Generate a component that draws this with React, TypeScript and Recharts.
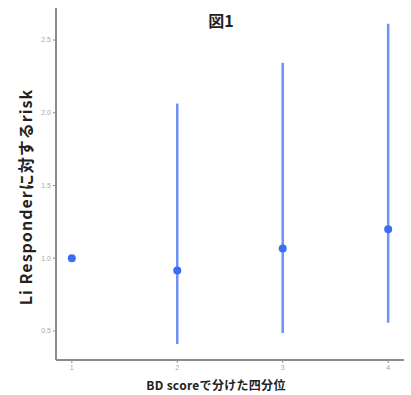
// App.tsx
// 図1: risk for Li responders by BD score quartile, point + error bar.
import { ScatterChart, Scatter, ErrorBar, XAxis, YAxis, Label } from "recharts";

const QUARTILES = [1, 2, 3, 4];
const RISK = [1.0, 0.915, 1.066, 1.199];
const LOWER = [1.0, 0.41, 0.486, 0.556];
const UPPER = [1.0, 2.063, 2.344, 2.612];

const X_TICKS = [1, 2, 3, 4];
const Y_TICKS = [0.5, 1.0, 1.5, 2.0, 2.5];

const data = QUARTILES.map((q, i) => ({
  q,
  risk: RISK[i],
  err: [RISK[i] - LOWER[i], UPPER[i] - RISK[i]],
}));

const FONT = '"Noto Sans CJK JP", "Noto Sans", sans-serif';
const AXIS_COLOR = "#8c8c8c";
const TICK_STYLE = { fontSize: 7, fill: "#a8a8a8", fontFamily: "Arial, sans-serif" };

const Dot = (props: any) => (
  <circle cx={props.cx} cy={props.cy} r={4} fill="#3a6cf4" />
);

// rotated y title, nudged a bit below the axis centre like the original
const YTitle = ({ viewBox }: any) => {
  const x = viewBox.x + viewBox.width / 2 - 3;
  const y = viewBox.y + viewBox.height / 2 + 13;
  return (
    <text
      x={x}
      y={y}
      transform={`rotate(-90, ${x}, ${y})`}
      textAnchor="middle"
      dominantBaseline="central"
      style={{ fontSize: 16, fontWeight: 700, fill: "#222", fontFamily: FONT, letterSpacing: 1 }}
    >
      Li Responderに対するrisk
    </text>
  );
};

export default function App() {
  return (
    <div style={{ position: "absolute", left: 0, top: 0, width: 411, height: 395, background: "#fff" }}>
      <div
        style={{
          position: "absolute", left: 0, width: 442, top: 8, textAlign: "center",
          fontFamily: FONT, fontWeight: 700, fontSize: 16, color: "#222",
        }}
      >
        図1
      </div>
      <ScatterChart width={411} height={395} margin={{ top: 8, right: 7, left: 0, bottom: 0 }}>
        <XAxis
          type="number"
          dataKey="q"
          domain={[0.85, 4.15]}
          ticks={X_TICKS}
          allowDataOverflow
          height={35}
          tickSize={3}
          tick={TICK_STYLE}
          tickLine={{ stroke: AXIS_COLOR }}
          axisLine={{ stroke: AXIS_COLOR, strokeWidth: 2 }}
        >
          <Label
            value="BD scoreで分けた四分位"
            position="insideBottom"
            offset={5}
            dx={-14}
            style={{ fontSize: 12, fontWeight: 700, fill: "#222", fontFamily: FONT, letterSpacing: 0.3 }}
          />
        </XAxis>
        <YAxis
          type="number"
          dataKey="risk"
          domain={[0.3, 2.72]}
          ticks={Y_TICKS}
          allowDataOverflow
          width={56}
          tickSize={3}
          tick={TICK_STYLE}
          tickFormatter={(v: number) => v.toFixed(1)}
          tickLine={{ stroke: AXIS_COLOR }}
          axisLine={{ stroke: AXIS_COLOR, strokeWidth: 2 }}
        >
          <Label content={YTitle} position="center" />
        </YAxis>
        <Scatter data={data} shape={Dot} isAnimationActive={false}>
          <ErrorBar dataKey="err" direction="y" width={0} stroke="#6f92f6" strokeWidth={2.5} />
        </Scatter>
      </ScatterChart>
    </div>
  );
}
